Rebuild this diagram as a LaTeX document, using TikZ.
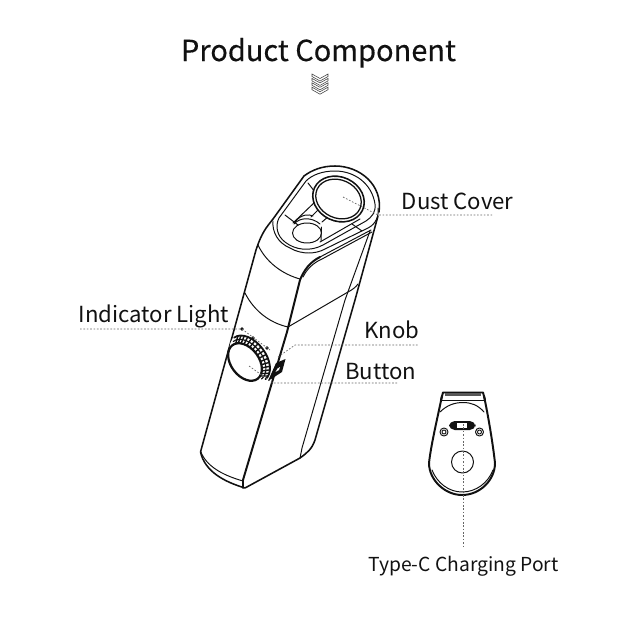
\documentclass[tikz,border=0pt]{standalone}
\usepackage{fontspec}
\setmainfont{Noto Sans CJK SC}
\newfontfamily\titlefont[FakeBold=0.35]{Noto Sans CJK SC}
\usepackage{xcolor}
\definecolor{ink}{HTML}{111111}
\definecolor{leadergray}{HTML}{666666}
\usetikzlibrary{calc,positioning}
\tikzset{
    outline/.style={line width=1.1pt, ink, line join=round, line cap=round},
    thinline/.style={line width=0.7pt, ink, line join=round, line cap=round},
    leader/.style={line width=0.5pt, leadergray, dash pattern=on 1.2pt off 1.2pt},
    partlabel/.style={font=\fontsize{15.75}{18}\selectfont, ink, inner sep=0pt, anchor=base west},
}
\begin{document}
\begin{tikzpicture}[x=0.025cm, y=-0.025cm]
    \useasboundingbox (0,0) rectangle (640,640);

    % Heading and chevrons
    \node[font=\titlefont\fontsize{20.6}{24}\selectfont, ink, inner sep=0pt, anchor=base] (title) at (318.5,61) {Product Component};
    \foreach \k in {0,1,2,3}
        \draw[line width=0.4pt, ink!80, line join=miter] (312,{74+4.4*\k}) -- (320,{78.5+4.4*\k}) -- (328,{74+4.4*\k})
            -- (328,{76.5+4.4*\k}) -- (320,{81+4.4*\k}) -- (312,{76.5+4.4*\k}) -- cycle;

    % Body outer contour
    \draw[outline] (378,216) -- (355,300) -- (315,440) .. controls (312,449) and (307,453) .. (300,458)
        -- (245,488) .. controls (225,482) and (205,472) .. (200.5,452)
        -- (256,250) .. controls (262,232) and (266,228) .. (273,219)
        -- (304,176) .. controls (312,170) and (322,166) .. (335,166)
        .. controls (360,166) and (383,185) .. (379,212);
    \draw[thinline] (370,231) -- (345,300) -- (302,448) -- (300,458);

    % Front edge (double line)
    \draw[outline, line width=1.4pt] (243,488) -- (243,480) -- (287,332) -- (300,280)
        .. controls (304,270) and (310,262) .. (320,257);
    \draw[thinline] (320,257) -- (371,230);
    \draw[thinline] (303,277) .. controls (307,269) and (313,263) .. (322,259) -- (372,232);

    % Bottom and band seams
    \draw[thinline] (200.5,451) .. controls (206,466) and (222,475) .. (243,481);
    \draw[thinline] (258,245) .. controls (266,262) and (282,274) .. (300,279);
    \draw[thinline] (245,293) .. controls (254,311) and (270,323) .. (288,327);
    \draw[thinline] (288,327) -- (348,292) .. controls (352,290) and (356,287) .. (358,284);

    % Top rim
    \draw[thinline] (273,221) .. controls (272,232) and (278,243) .. (290,248)
        .. controls (302,255) and (316,254) .. (325,249) -- (368,228)
        .. controls (376,224) and (379,216) .. (378,208);
    \draw[thinline] (279,218) -- (306,181) .. controls (312,175) and (322,171) .. (335,171)
        .. controls (355,171) and (372,184) .. (375,204)
        .. controls (376,212) and (372,217) .. (366,221) -- (323,245)
        .. controls (310,252) and (295,250) .. (285,242)
        .. controls (277,236) and (275,226) .. (279,218);

    % Well partitions
    \draw[thinline] (308,183) -- (315,192);
    \draw[thinline] (285,215) -- (298,225);
    \draw[thinline] (293,223) -- (316,201);
    \draw[thinline] (311,217) -- (322,206);
    \draw[thinline] (322,222) -- (329,216);
    \draw[thinline] (320,242) -- (360,219);
    \draw[thinline] (352,224) -- (362,231);

    % Mouth under the cover
    \draw[thinline] (307,233) ellipse (14.5 and 10);
    \draw[thinline] (294,224) .. controls (300,217) and (312,217) .. (320,224);
    \draw[thinline] (295,222) .. controls (301,214) and (309,214) .. (313,216);
    \draw[thinline] (321.5,227) -- (321,241);

    % Dust cover disc
    \fill[white, rotate around={-25:(338.5,199)}] (338.5,199) ellipse (26 and 22);
    \draw[outline, rotate around={-25:(338.5,199)}] (338.5,199) ellipse (26.5 and 22);
    \draw[outline, line width=0.9pt, rotate around={-25:(338.5,199)}] (338.5,199) ellipse (23.5 and 19);

    % Knob with its teeth and the lens
    \begin{scope}[shift={(245,362)}, rotate=-53]
        \fill[white] (0,-6) ellipse (26 and 16);
        \fill[white] (0,0) ellipse (21 and 14);
        \foreach \t in {195,205,...,345}
            \draw[line width=1pt, ink] ({21*cos(\t)},{14*sin(\t)}) -- ({26*cos(\t)},{16*sin(\t)-6});
        \draw[outline, line width=1.3pt] (-26,-6) arc[start angle=180, end angle=360, x radius=26, y radius=16];
        \draw[outline, line width=0.8pt] (-23.5,-3) arc[start angle=180, end angle=360, x radius=23.5, y radius=15];
        \draw[outline, line width=1.6pt] (0,0) ellipse (21 and 14);
    \end{scope}

    % Button wedge
    \fill[ink] (276,363) -- (285.5,359) -- (282,372) -- (268,381) -- cycle;
    \fill[white] (277.5,368.5) -- (280,367) -- (279,370) -- (275.5,372) -- cycle;

    % Indicator dots
    \foreach \p/\q in {242/329, 253/338, 267/348}
        \fill[ink] (\p,\q) circle (1.8);

    % Charging end
    \draw[outline, line width=1.4pt] (442,396) .. controls (437,420) and (431,445) .. (429,463)
        .. controls (429,480) and (445,495) .. (462,495)
        .. controls (480,495) and (495,480) .. (495,463)
        .. controls (493,445) and (489,420) .. (484,396);
    \draw[thinline] (432,470) .. controls (437,483) and (449,492) .. (462,492)
        .. controls (476,492) and (488,483) .. (493,470);
    \draw[outline, line width=1.4pt] (441,400) -- (443,392.5) -- (483,392.5) -- (485,400);
    \draw[thinline] (441,400) -- (485,400);
    \draw[thinline] (440,412) .. controls (447,405) and (455,402.5) .. (463,402.5)
        .. controls (471,402.5) and (478,405) .. (484,412);
    \fill[ink!70] (445,393) rectangle (481,395.5);
    \fill[ink, rounded corners=4pt] (449,421) rectangle (475.5,430);
    \fill[white] (457,423) rectangle (467,427.5);
    \draw[thinline] (444,432) circle (4);
    \draw[thinline] (444,432) circle (2);
    \draw[thinline] (479.5,432) circle (4);
    \draw[thinline] (479.5,432) circle (2);
    \draw[thinline] (462.5,462) circle (11);

    % Labels
    \node[partlabel] (dustcover) at (401.5,209) {Dust Cover};
    \node[partlabel] (indicator) at (78.5,322) {Indicator Light};
    \node[partlabel] (knob) at (364,338) {Knob};
    \node[partlabel] (button) at (345,379) {Button};
    \node[partlabel, font=\fontsize{13.7}{16}\selectfont] (typec) at (368,571) {Type-C Charging Port};

    % Leaders
    \coordinate (dustA) at (343,197);
    \coordinate (dustB) at (378,215);
    \coordinate (dustC) at (492,215);
    \draw[leader] (dustA) -- (dustB) -- (dustC);
    \coordinate (indA) at (80,329);
    \coordinate (indB) at (242,329);
    \coordinate (indC) at (270,350);
    \draw[leader] (indA) -- (indB) -- (indC);
    \coordinate (knobA) at (278,357);
    \coordinate (knobB) at (295,345);
    \coordinate (knobC) at (418,345);
    \draw[leader] (knobA) -- (knobB) -- (knobC);
    \coordinate (btnA) at (249,366);
    \coordinate (btnB) at (273,383);
    \coordinate (btnC) at (398,383);
    \draw[leader] (btnA) -- (btnB) -- (btnC);
    \coordinate (portA) at (463,424);
    \coordinate (portB) at (463,546);
    \draw[leader] (portA) -- (portB);
\end{tikzpicture}
\end{document}
